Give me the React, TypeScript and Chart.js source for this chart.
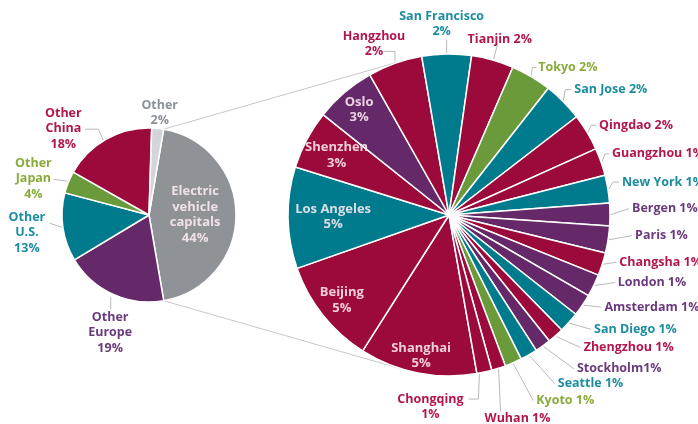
import React, { useEffect, useRef } from "react";
import { Chart, ArcElement, PieController } from "chart.js";

Chart.register(ArcElement, PieController);

const W = 698;
const H = 424;

// ---------- DATA ----------
// Left pie: share of all electric vehicles (%)
const overviewNames = ["Electric\nvehicle\ncapitals", "Other\nEurope", "Other\nU.S.", "Other\nJapan", "Other\nChina", "Other"];
const overviewValues = [44.6, 19.1, 12.7, 4.1, 17.3, 2.2];
const overviewPct = ["44%", "19%", "13%", "4%", "18%", "2%"];
const overviewGroup = ["gray", "purple", "teal", "green", "red", "light"];

// Right pie: breakdown of the electric vehicle capitals (% of total)
const cityNames = [
  "Shanghai", "Beijing", "Los Angeles", "Shenzhen", "Oslo", "Hangzhou", "San Francisco", "Tianjin",
  "Tokyo", "San Jose", "Qingdao", "Guangzhou", "New York", "Bergen", "Paris", "Changsha", "London",
  "Amsterdam", "San Diego", "Zhengzhou", "Stockholm", "Seattle", "Kyoto", "Wuhan", "Chongqing",
];
const cityValues = [
  5.19, 4.67, 4.49, 2.59, 2.69, 2.41, 2.18, 1.87,
  1.8, 1.75, 1.63, 1.22, 1.23, 1.0, 1.19, 1.01, 0.99,
  0.98, 0.92, 0.72, 0.7, 0.76, 0.75, 0.62, 0.66,
];
const cityPct = [
  "5%", "5%", "5%", "3%", "3%", "2%", "2%", "2%",
  "2%", "2%", "2%", "1%", "1%", "1%", "1%", "1%", "1%",
  "1%", "1%", "1%", "1%", "1%", "1%", "1%", "1%",
];
const cityGroup = [
  "red", "red", "teal", "red", "purple", "red", "teal", "red",
  "green", "teal", "red", "red", "teal", "purple", "purple", "red", "purple",
  "purple", "teal", "red", "purple", "teal", "green", "red", "red",
];

// ---------- STYLE ----------
const FILL: Record<string, string> = {
  red: "#9c0a3c",
  teal: "#007b8d",
  purple: "#652868",
  green: "#6b9a3a",
  gray: "#8f9398",
  light: "#d3d5d8",
};
const TEXT: Record<string, string> = {
  red: "#b2164f",
  teal: "#1c8da0",
  purple: "#6b3a7d",
  green: "#8aab3c",
  gray: "#8a9098",
  light: "#8a9098",
};
const INNER_TEXT = "rgba(255,238,244,0.86)";
const LEADER = "#b9b9b9";
const FONT_OUTER = 'bold 12.5px "Open Sans", "DejaVu Sans", sans-serif';
const FONT_INNER = 'bold 13px "Open Sans", "DejaVu Sans", sans-serif';
const LH = 15.5;

type Layout = {
  inner?: number;
  dx?: number;
  dy?: number;
  align?: CanvasTextAlign;
  inline?: boolean;
  sep?: string;
  leader?: [number, number][];
};

const cityLayout: Layout[] = [
  { inner: 0.89 }, // Shanghai
  { inner: 0.85 }, // Beijing
  { inner: 0.72 }, // Los Angeles
  { inner: 0.79 }, // Shenzhen
  { inner: 0.86 }, // Oslo
  { dx: -21, dy: -27, align: "center", leader: [[0, -2], [0, -12], [-11, -12]] }, // Hangzhou
  { dx: -5, dy: -38, align: "center", leader: [[0, -1], [0, -14]] }, // San Francisco
  { dx: -25, dy: -21, align: "left", inline: true, leader: [[1, -1], [5, -16]] }, // Tianjin
  { dx: 7, dy: -9, align: "left", inline: true, leader: [[0, -1], [1, -9], [5, -9]] }, // Tokyo
  { dx: 11, dy: -12, align: "left", inline: true, leader: [[0, -1], [2, -12], [8, -12]] }, // San Jose
  { dx: 12, dy: -7, align: "left", inline: true, leader: [[1, 0], [4, -7], [9, -7]] }, // Qingdao
  { dx: 11, dy: -8, align: "left", inline: true, leader: [[1, 0], [4, -8], [8, -8]] }, // Guangzhou
  { dx: 14, dy: -7, align: "left", inline: true, leader: [[1, 0], [5, -7], [11, -7]] }, // New York
  { dx: 22, dy: -6, align: "left", inline: true, leader: [[1, 0], [19, -6]] }, // Bergen
  { dx: 27, dy: -4, align: "left", inline: true, leader: [[1, 0], [24, -4]] }, // Paris
  { dx: 17, dy: -2, align: "left", inline: true, leader: [[1, 0], [14, -2]] }, // Changsha
  { dx: 24, dy: -3, align: "left", inline: true, leader: [[1, 0], [21, -3]] }, // London
  { dx: 22, dy: 2, align: "left", inline: true, leader: [[1, 0], [19, 2]] }, // Amsterdam
  { dx: 25, dy: 7, align: "left", inline: true, leader: [[1, 1], [22, 7]] }, // San Diego
  { dx: 28, dy: 12, align: "left", inline: true, leader: [[1, 1], [25, 12]] }, // Zhengzhou
  { dx: 34, dy: 23, align: "left", inline: true, sep: "", leader: [[1, 1], [31, 23]] }, // Stockholm
  { dx: 29, dy: 29, align: "left", inline: true, leader: [[1, 1], [26, 29]] }, // Seattle
  { dx: 23, dy: 38, align: "left", inline: true, leader: [[0, 1], [20, 38]] }, // Kyoto
  { dx: -14, dy: 50, align: "left", inline: true, leader: [[0, 1], [2, 43]] }, // Wuhan
  { dx: -54, dy: 27, align: "center", leader: [[-5, 2], [-6, 27], [-16, 27]] }, // Chongqing
];

const overviewLayout: Layout[] = [
  { inner: 0.53 }, // EV capitals
  { dx: -2.6, dy: 23, align: "center", leader: [[-2, 3], [-2, 15]] }, // Europe
  { dx: -36, dy: -10, align: "center", leader: [[-1, 0], [-13, -4]] }, // U.S.
  { dx: -35, dy: -19, align: "center", leader: [[-1, -1], [-15, -3]] }, // Japan
  { dx: -43, dy: -26, align: "center", leader: [[-3, 1], [-8, -10], [-21, -10]] }, // China
  { dx: 2, dy: -23, align: "center", leader: [] }, // Other
];

function makeLabelPlugin(id: string, names: string[], pcts: string[], groups: string[], layouts: Layout[]) {
  return {
    id,
    afterDatasetsDraw(chart: any) {
      const ctx: CanvasRenderingContext2D = chart.ctx;
      const meta = chart.getDatasetMeta(0);
      ctx.save();
      ctx.textBaseline = "middle";
      meta.data.forEach((el: any, i: number) => {
        const p = el.getProps(["x", "y", "startAngle", "endAngle", "outerRadius"], true);
        const mid = (p.startAngle + p.endAngle) / 2;
        const L = layouts[i];
        const lines = L.inline
          ? [names[i] + (L.sep ?? " ") + pcts[i]]
          : [...names[i].split("\n"), pcts[i]];
        if (L.inner != null) {
          const cx = p.x + Math.cos(mid) * p.outerRadius * L.inner;
          const cy = p.y + Math.sin(mid) * p.outerRadius * L.inner;
          ctx.font = FONT_INNER;
          ctx.fillStyle = INNER_TEXT;
          ctx.textAlign = "center";
          const y0 = cy - ((lines.length - 1) * LH) / 2;
          lines.forEach((t, k) => ctx.fillText(t, cx, y0 + k * LH));
        } else {
          const rx = p.x + Math.cos(mid) * p.outerRadius;
          const ry = p.y + Math.sin(mid) * p.outerRadius;
          const leader = L.leader || [];
          if (leader.length > 1) {
            ctx.beginPath();
            leader.forEach(([dx, dy], k) => {
              if (k === 0) ctx.moveTo(rx + dx, ry + dy);
              else ctx.lineTo(rx + dx, ry + dy);
            });
            ctx.strokeStyle = LEADER;
            ctx.lineWidth = 1;
            ctx.stroke();
          }
          ctx.font = FONT_OUTER;
          ctx.fillStyle = TEXT[groups[i]];
          ctx.textAlign = L.align || "left";
          lines.forEach((t, k) => ctx.fillText(t, rx + (L.dx || 0), ry + (L.dy || 0) + k * LH));
        }
      });
      ctx.restore();
    },
  };
}

function makeConnectorPlugin(getSmall: () => any) {
  return {
    id: "connectors",
    beforeDatasetsDraw(chart: any) {
      const small = getSmall();
      if (!small) return;
      const s = small.getDatasetMeta(0).data[0].getProps(["x", "y", "startAngle", "endAngle", "outerRadius"], true);
      const b = chart.getDatasetMeta(0).data[0].getProps(["x", "y", "outerRadius"], true);
      const ctx: CanvasRenderingContext2D = chart.ctx;
      ctx.save();
      ctx.strokeStyle = "#c8c8c8";
      ctx.lineWidth = 1;
      const draw = (ang: number, sign: number) => {
        const px = s.x + Math.cos(ang) * s.outerRadius;
        const py = s.y + Math.sin(ang) * s.outerRadius;
        const dx = px - b.x;
        const dy = py - b.y;
        const D = Math.hypot(dx, dy);
        const base = Math.atan2(dy, dx);
        const t = base + sign * Math.acos(b.outerRadius / D);
        ctx.beginPath();
        ctx.moveTo(px, py);
        ctx.lineTo(b.x + Math.cos(t) * b.outerRadius, b.y + Math.sin(t) * b.outerRadius);
        ctx.stroke();
      };
      draw(s.startAngle, 1);
      draw(s.endAngle, -1);
      ctx.restore();
    },
  };
}

function pieConfig(values: number[], groups: string[], rotation: number, padding: any, plugins: any[]) {
  return {
    type: "pie" as const,
    data: {
      labels: values.map((_, i) => String(i)),
      datasets: [
        {
          data: values,
          backgroundColor: groups.map((g) => FILL[g]),
          borderColor: "#ffffff",
          borderWidth: 1.5,
        },
      ],
    },
    options: {
      responsive: false,
      animation: false as const,
      devicePixelRatio: 1,
      rotation,
      events: [] as any[],
      layout: { padding },
      plugins: { legend: { display: false }, tooltip: { enabled: false } },
    },
    plugins,
  };
}

export default function App() {
  const bigRef = useRef<HTMLCanvasElement>(null);
  const smallRef = useRef<HTMLCanvasElement>(null);

  useEffect(() => {
    const small = new Chart(
      smallRef.current!,
      pieConfig(
        overviewValues,
        overviewGroup,
        9.7,
        { left: 61.25, right: 461.25, top: 127.25, bottom: 121.25 },
        [makeLabelPlugin("overviewLabels", overviewNames, overviewPct, overviewGroup, overviewLayout)]
      ) as any
    );
    const big = new Chart(
      bigRef.current!,
      pieConfig(
        cityValues,
        cityGroup,
        170,
        { left: 287.25, right: 87.25, top: 53.25, bottom: 47.25 },
        [
          makeConnectorPlugin(() => small),
          makeLabelPlugin("cityLabels", cityNames, cityPct, cityGroup, cityLayout),
        ]
      ) as any
    );
    return () => {
      big.destroy();
      small.destroy();
    };
  }, []);

  const cs: React.CSSProperties = { position: "absolute", left: 0, top: 0, width: W, height: H };
  return (
    <div style={{ position: "fixed", left: 0, top: 0, width: W, height: H, background: "#fff", overflow: "hidden" }}>
      <canvas ref={bigRef} width={W} height={H} style={cs} />
      <canvas ref={smallRef} width={W} height={H} style={cs} />
    </div>
  );
}
